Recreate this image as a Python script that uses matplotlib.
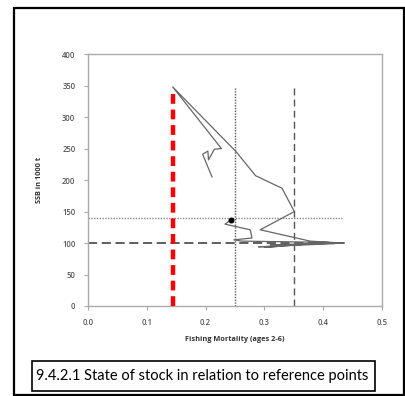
# SSB vs fishing mortality, with reference points

import numpy as np
import matplotlib.pyplot as plt
from matplotlib.patches import Rectangle

# trajectory (time order, last point = black dot)
f_bar = [0.211, 0.195, 0.204, 0.205, 0.215, 0.227, 0.144, 0.252, 0.285,
         0.330, 0.351, 0.293, 0.378, 0.432, 0.310, 0.420, 0.290, 0.327,
         0.300, 0.410, 0.262, 0.248, 0.279, 0.276, 0.233, 0.243]
ssb = [205, 241, 246, 232, 249, 250, 348, 245, 207,
       187, 150, 121, 103, 100, 97, 99, 94, 95,
       93, 101, 103, 105, 108, 121, 130, 136.5]

# reference points
f_mgt = 0.145
f_pa, f_lim = 0.25, 0.35
b_pa, b_lim = 140, 100

xticks = [0.0, 0.1, 0.2, 0.3, 0.4, 0.5]
yticks = [0, 50, 100, 150, 200, 250, 300, 350, 400]

plt.rcParams['font.family'] = ['Open Sans', 'DejaVu Sans']

fig = plt.figure(figsize=(4.06, 3.96), dpi=100)
ax = fig.add_axes([0.2167, 0.2273, 0.724, 0.636])

ax.plot([f_mgt, f_mgt], [0, 340], color='#ff0000', lw=3.2, ls=(0, (2.2, 1.3)), zorder=3)
ax.plot([f_pa, f_pa], [0, 348], color='#555555', lw=1.0, ls=(0, (1, 1)))
ax.plot([f_lim, f_lim], [0, 348], color='#555555', lw=1.0, ls=(0, (5, 3)))
ax.plot([0, 0.432], [b_pa, b_pa], color='#888888', lw=1.0, ls=(0, (1, 1)))
ax.plot([0, 0.44], [b_lim, b_lim], color='#333333', lw=1.1, ls=(0, (6, 3)))

ax.plot(f_bar, ssb, color='#666666', lw=0.9, zorder=4)
ax.plot(f_bar[-1], ssb[-1], 'o', color='black', ms=3.3, zorder=5)

ax.set_xlim(0, 0.5)
ax.set_ylim(0, 400)
ax.set_xticks(xticks)
ax.set_xticklabels(['%.1f' % t for t in xticks])
ax.set_yticks(yticks)
ax.tick_params(labelsize=5.5, colors='#555555', length=3, width=0.8,
               direction='out', pad=6)
ax.tick_params(axis='x', color='#aaaaaa')
ax.tick_params(axis='y', color='#aaaaaa')
for lab in ax.get_xticklabels() + ax.get_yticklabels():
    lab.set_fontweight('semibold')
for s in ax.spines.values():
    s.set_color('#aaaaaa')
    s.set_linewidth(1.0)

ax.set_xlabel('Fishing Mortality (ages 2-6)', fontsize=5.3, fontweight='bold',
              color='#333333', labelpad=6)
ax.set_ylabel('SSB in 1000 t', fontsize=5.3, fontweight='bold',
              color='#333333', labelpad=14)

# outer frame and caption box
fig.patches.append(Rectangle((14 / 406, 1 / 396), 390 / 406, 387 / 396,
                             transform=fig.transFigure, fill=False,
                             ec='black', lw=1.6))
fig.patches.append(Rectangle((32 / 406, 5 / 396), 343 / 406, 30 / 396,
                             transform=fig.transFigure, fill=False,
                             ec='black', lw=1.2))
fig.text(36 / 406, 20 / 396, '9.4.2.1 State of stock in relation to reference points',
         fontsize=10.5, va='center', ha='left', family=['Lato', 'DejaVu Sans'])

plt.savefig('out.png', dpi=100)
